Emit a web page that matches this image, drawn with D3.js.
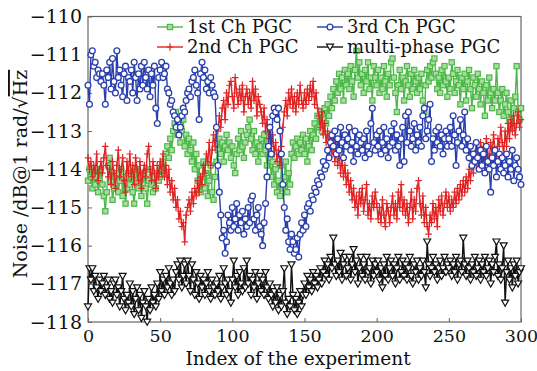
<!DOCTYPE html>
<html><head><meta charset="utf-8">
<script src="https://cdn.jsdelivr.net/npm/d3@7"></script>
<style>body{margin:0;background:#fff}svg{display:block}</style>
</head><body>
<svg id="c" width="537" height="371"></svg>
<script>
const xTicks = [0,50,100,150,200,250,300];
const yTicks = [-118,-117,-116,-115,-114,-113,-112,-111,-110];
const seriesNames = ["1st Ch PGC","2nd Ch PGC","3rd Ch PGC","multi-phase PGC"];

const ch1 = [
-114.3,-114.0,-114.2,-114.5,-114.1,-114.4,-114.2,-114.6,-114.3,-114.0,
-114.4,-114.7,-115.1,-114.6,-113.9,-113.7,-114.3,-114.8,-114.5,-114.2,
-114.1,-114.6,-114.3,-114.0,-114.7,-114.2,-114.9,-114.5,-114.1,-114.4,
-114.2,-114.6,-114.9,-114.3,-114.0,-114.5,-114.2,-114.7,-114.4,-114.1,
-114.5,-114.9,-114.3,-114.0,-114.4,-114.6,-114.2,-114.5,-114.1,-114.3,
-114.2,-114.0,-113.8,-114.1,-113.6,-113.4,-113.7,-113.2,-113.5,-113.0,
-112.8,-112.5,-113.1,-112.9,-113.3,-113.0,-112.7,-113.4,-113.1,-113.6,
-113.2,-113.5,-113.8,-113.3,-114.0,-113.6,-114.3,-113.9,-114.6,-114.2,
-113.8,-114.5,-114.1,-114.7,-114.3,-113.9,-114.6,-114.8,-114.2,-113.8,
-113.5,-113.2,-113.6,-113.3,-113.8,-113.4,-113.1,-113.5,-113.3,-113.7,
-113.4,-113.9,-114.1,-113.6,-113.2,-113.5,-113.0,-113.4,-113.7,-113.3,
-113.1,-112.9,-112.7,-113.2,-113.5,-113.0,-113.6,-113.3,-113.8,-113.4,
-113.2,-113.6,-113.1,-113.5,-113.9,-113.3,-113.7,-114.2,-113.8,-114.4,
-114.0,-114.6,-114.3,-114.7,-113.9,-114.5,-114.2,-113.8,-114.6,-114.1,
-114.4,-113.6,-113.3,-113.7,-113.4,-113.2,-113.6,-113.3,-113.5,-113.1,
-113.6,-113.2,-113.8,-113.4,-113.0,-113.5,-113.1,-112.8,-113.2,-112.6,
-112.9,-112.5,-113.0,-112.7,-112.4,-112.8,-112.3,-112.6,-112.1,-112.4,
-111.9,-112.2,-111.7,-112.0,-111.5,-111.9,-111.6,-112.2,-111.4,-111.8,
-111.5,-111.9,-111.3,-111.7,-112.1,-111.4,-110.9,-111.6,-111.2,-111.8,
-111.5,-112.0,-111.4,-111.7,-111.2,-111.9,-111.6,-112.2,-111.3,-111.6,
-111.8,-111.4,-112.0,-111.6,-111.9,-111.3,-111.7,-112.1,-111.5,-111.8,
-111.2,-111.1,-111.6,-112.0,-112.5,-111.8,-111.4,-111.9,-111.6,-112.2,
-111.7,-111.3,-111.8,-112.1,-111.5,-111.9,-111.4,-111.7,-112.0,-111.6,
-111.9,-111.5,-112.2,-112.5,-111.8,-111.4,-111.7,-111.3,-111.6,-111.2,
-111.1,-111.5,-111.9,-111.6,-112.0,-111.4,-111.8,-111.3,-111.7,-112.1,
-111.6,-111.9,-111.2,-111.5,-112.0,-111.7,-111.4,-111.8,-112.3,-111.6,
-111.9,-111.5,-112.2,-111.7,-111.4,-111.9,-112.4,-111.6,-111.8,-112.1,
-111.5,-111.9,-112.3,-111.7,-112.0,-112.6,-111.8,-112.2,-111.6,-112.0,
-112.4,-111.9,-112.2,-111.3,-112.0,-112.5,-112.2,-111.9,-112.6,-112.3,
-112.0,-112.5,-112.7,-112.2,-112.9,-112.4,-112.1,-111.3,-112.5,-112.7,
-112.4];

const ch2 = [
-113.7,-114.0,-113.8,-114.2,-113.9,-114.1,-113.6,-114.3,-114.0,-113.8,
-114.1,-113.7,-113.4,-113.9,-114.2,-114.0,-114.4,-113.8,-114.1,-114.5,
-113.9,-113.5,-114.2,-114.0,-113.7,-114.3,-114.6,-113.8,-114.1,-113.6,
-114.2,-113.9,-114.4,-113.7,-114.0,-114.3,-113.8,-114.5,-114.1,-113.9,
-114.2,-113.6,-113.4,-114.0,-114.3,-113.8,-114.1,-114.5,-113.9,-114.2,
-113.8,-114.1,-113.6,-114.2,-113.9,-114.4,-114.0,-114.6,-114.3,-114.8,
-114.5,-115.0,-114.8,-115.3,-115.1,-115.5,-115.4,-115.9,-115.2,-115.0,
-114.8,-115.1,-114.6,-114.9,-114.5,-114.7,-114.3,-114.6,-114.2,-114.4,
-113.9,-114.1,-113.6,-113.8,-113.3,-113.9,-113.5,-113.1,-113.4,-112.9,
-113.0,-112.6,-112.9,-112.4,-112.2,-112.7,-112.0,-112.3,-111.8,-111.7,
-112.1,-112.4,-111.6,-112.0,-112.3,-111.9,-112.2,-111.8,-112.5,-112.1,
-111.9,-112.3,-112.0,-112.4,-111.7,-112.2,-111.9,-112.6,-112.1,-112.3,
-112.5,-112.8,-112.4,-113.0,-112.7,-113.2,-112.9,-113.4,-113.1,-113.6,
-113.3,-113.8,-113.5,-113.9,-113.4,-112.9,-112.5,-112.2,-112.6,-112.0,
-112.3,-111.9,-112.4,-112.1,-112.5,-112.0,-112.3,-111.8,-112.2,-112.4,
-112.0,-112.3,-111.9,-112.2,-111.8,-112.1,-111.7,-112.3,-112.0,-112.4,
-112.6,-112.9,-112.5,-113.1,-112.8,-113.3,-113.0,-113.5,-113.2,-113.6,
-113.3,-113.8,-113.5,-113.9,-113.6,-114.1,-113.7,-114.2,-113.9,-114.4,
-114.1,-114.6,-114.3,-114.8,-114.5,-115.0,-114.7,-115.2,-114.6,-114.9,
-114.5,-115.1,-114.8,-114.4,-115.2,-114.9,-115.3,-114.7,-115.0,-114.6,
-114.9,-115.3,-115.0,-115.4,-114.8,-115.2,-115.5,-114.9,-115.1,-115.4,
-115.0,-114.7,-115.2,-114.9,-115.3,-114.6,-115.0,-114.4,-115.1,-114.8,
-115.2,-114.9,-115.4,-115.0,-114.6,-115.3,-114.8,-115.1,-114.5,-114.3,
-114.9,-115.2,-114.7,-115.4,-115.0,-115.5,-115.7,-115.2,-115.4,-114.9,
-115.3,-115.0,-115.5,-114.8,-115.1,-114.7,-115.2,-114.9,-114.6,-115.0,
-114.7,-115.1,-114.8,-115.0,-114.6,-114.9,-114.5,-114.8,-114.4,-114.7,
-114.3,-114.6,-114.2,-114.5,-114.0,-114.3,-113.8,-114.1,-113.6,-113.9,
-113.5,-113.8,-113.3,-113.7,-113.4,-113.9,-113.2,-113.6,-113.8,-113.3,
-113.6,-113.1,-113.5,-113.8,-113.2,-113.4,-112.9,-113.3,-113.6,-113.0,
-113.4,-112.8,-113.2,-112.7,-113.0,-112.6,-113.1,-112.8,-112.5,-112.9,
-112.7];

const ch3 = [
-111.8,-112.3,-111.0,-110.9,-111.3,-111.2,-111.6,-111.4,-111.5,-111.7,
-111.5,-111.8,-112.3,-111.4,-111.6,-111.2,-111.9,-111.1,-111.7,-112.0,
-110.9,-111.6,-111.4,-111.8,-112.1,-111.5,-111.3,-112.2,-111.6,-111.7,
-111.4,-112.0,-111.2,-111.6,-112.2,-111.5,-111.9,-111.3,-111.8,-111.2,
-111.6,-111.9,-111.4,-112.1,-111.5,-111.8,-111.3,-112.4,-112.8,-111.6,
-111.4,-111.2,-111.6,-111.5,-111.3,-111.9,-112.0,-112.3,-112.2,-112.5,
-112.6,-112.9,-112.7,-113.1,-112.9,-112.6,-112.4,-112.5,-112.2,-112.0,
-111.9,-112.1,-111.7,-111.6,-111.4,-111.8,-112.0,-112.7,-111.5,-111.2,
-111.6,-111.4,-111.9,-111.7,-112.0,-111.6,-111.8,-112.0,-112.1,-112.9,
-113.9,-114.6,-115.2,-115.8,-115.6,-116.2,-115.9,-115.2,-115.4,-115.6,
-115.0,-115.5,-115.3,-114.9,-115.6,-115.2,-115.4,-115.1,-115.7,-115.3,
-115.5,-115.0,-115.4,-114.8,-114.7,-115.3,-115.6,-115.2,-115.0,-115.5,
-115.7,-116.0,-115.4,-114.9,-114.2,-113.4,-112.9,-113.6,-112.6,-112.4,
-112.5,-112.7,-112.4,-113.0,-113.6,-114.4,-115.0,-115.6,-115.3,-115.9,
-116.1,-115.7,-115.9,-116.2,-116.1,-115.8,-116.3,-115.7,-115.4,-115.6,
-115.2,-115.5,-115.0,-114.9,-115.1,-114.7,-114.8,-114.5,-114.6,-114.3,
-114.4,-114.1,-114.2,-113.8,-114.0,-113.9,-113.5,-113.7,-113.3,-113.1,
-113.4,-113.0,-113.6,-113.2,-113.5,-112.9,-113.3,-113.7,-113.1,-113.4,
-113.2,-112.9,-113.5,-113.3,-113.8,-113.0,-113.4,-113.6,-113.1,-113.3,
-113.5,-113.2,-113.7,-113.0,-113.4,-113.6,-112.8,-112.4,-113.3,-113.5,
-113.1,-113.4,-113.0,-113.6,-113.3,-112.9,-113.5,-113.2,-113.7,-113.4,
-113.0,-113.3,-112.8,-113.5,-113.1,-113.4,-113.9,-113.2,-112.9,-113.8,
-112.6,-113.3,-112.5,-113.0,-113.4,-113.2,-112.8,-113.5,-113.1,-113.3,
-112.9,-113.4,-112.6,-112.4,-113.2,-113.0,-112.7,-112.3,-113.8,-113.2,
-113.5,-113.0,-113.3,-112.9,-113.4,-113.1,-113.6,-113.2,-113.0,-113.4,
-113.2,-112.9,-113.4,-112.6,-113.1,-113.9,-113.3,-113.0,-112.7,-113.4,
-113.1,-112.5,-113.5,-113.2,-113.7,-113.4,-113.9,-113.6,-113.8,-113.3,
-113.7,-114.0,-113.5,-113.9,-113.6,-114.1,-113.4,-113.8,-114.0,-114.6,
-113.7,-113.9,-113.5,-114.2,-113.8,-113.6,-114.0,-113.7,-114.1,-113.9,
-113.6,-114.2,-113.8,-114.0,-113.5,-114.3,-113.9,-113.7,-114.0,-114.2,
-114.4];

const multi = [
-117.6,-116.6,-116.9,-116.6,-117.2,-116.8,-117.1,-117.4,-116.9,-117.2,
-117.0,-116.8,-117.3,-117.1,-116.9,-117.4,-117.2,-117.5,-117.0,-116.9,
-117.3,-117.1,-117.6,-117.2,-116.8,-117.4,-117.7,-117.3,-117.5,-117.0,
-117.6,-117.2,-117.8,-117.4,-117.1,-117.7,-117.3,-117.9,-117.5,-117.2,
-117.6,-118.0,-117.4,-117.7,-117.1,-117.5,-117.3,-117.6,-117.0,-117.4,
-116.7,-117.2,-116.9,-117.3,-116.8,-117.1,-116.6,-117.0,-117.3,-116.9,
-117.2,-116.7,-116.5,-116.9,-116.4,-117.1,-116.8,-116.5,-117.0,-116.4,
-116.8,-117.2,-116.5,-116.9,-117.3,-116.7,-117.0,-117.4,-116.8,-117.1,
-116.9,-117.3,-117.0,-116.7,-117.2,-117.4,-116.9,-117.1,-117.3,-117.0,
-117.2,-116.8,-117.4,-117.1,-116.6,-117.0,-117.3,-116.9,-117.2,-117.5,
-116.9,-116.4,-117.1,-116.8,-117.3,-116.7,-117.0,-117.2,-116.6,-117.1,
-116.4,-117.0,-116.8,-117.3,-116.9,-117.1,-116.7,-117.4,-117.0,-116.8,
-117.2,-116.9,-117.3,-116.7,-117.1,-117.4,-117.0,-117.3,-117.6,-117.2,
-117.5,-117.1,-117.7,-117.3,-117.6,-117.2,-116.6,-117.5,-117.8,-117.4,
-117.6,-116.5,-117.3,-117.7,-117.4,-117.8,-117.5,-117.2,-117.6,-117.3,
-117.0,-117.3,-116.8,-117.1,-116.9,-117.2,-116.7,-117.0,-116.8,-117.1,
-116.9,-116.6,-117.0,-116.7,-116.4,-116.8,-116.5,-116.9,-116.3,-116.6,
-115.8,-116.5,-116.8,-116.4,-116.7,-116.2,-116.9,-116.5,-116.3,-116.8,
-116.6,-116.3,-116.9,-116.5,-116.1,-116.7,-116.4,-117.0,-116.6,-116.3,
-116.8,-116.5,-116.9,-116.3,-116.7,-116.6,-117.0,-116.4,-116.8,-116.5,
-116.7,-116.4,-116.9,-116.6,-117.1,-116.5,-116.8,-116.3,-116.9,-116.6,
-116.4,-116.8,-116.5,-117.0,-116.6,-116.3,-116.9,-116.7,-116.4,-116.8,
-116.5,-116.9,-116.6,-116.3,-116.8,-117.0,-116.5,-116.7,-116.4,-116.9,
-116.6,-116.8,-116.4,-116.7,-117.1,-115.9,-116.5,-116.8,-116.6,-116.3,
-116.7,-116.5,-116.9,-116.6,-116.4,-116.8,-116.6,-116.3,-116.7,-116.5,
-116.6,-116.4,-116.8,-116.5,-116.7,-116.3,-116.9,-116.5,-116.4,-116.7,
-115.8,-116.5,-116.8,-116.4,-116.6,-116.9,-116.5,-116.7,-116.3,-116.8,
-116.6,-116.4,-116.9,-116.5,-116.7,-116.3,-116.8,-116.6,-116.4,-117.0,
-116.5,-116.7,-116.3,-115.9,-116.8,-116.5,-116.9,-116.6,-116.0,-117.5,
-116.7,-116.4,-116.9,-116.6,-117.1,-116.5,-116.8,-116.4,-117.0,-116.7,
-116.6];

const svg = d3.select("#c");
const FONT = "'DejaVu Serif', 'Liberation Serif', serif";
const x = d3.scaleLinear().domain([0,300]).range([88,521]);
const y = d3.scaleLinear().domain([-118,-110]).range([322,16.5]);

// frame
svg.append("rect").attr("x",88).attr("y",16.5).attr("width",433).attr("height",305.5)
  .attr("fill","none").attr("stroke","#666").attr("stroke-width",1.2);

// axes with inward ticks
const gx = svg.append("g").attr("transform","translate(0,322)")
  .call(d3.axisBottom(x).tickValues(xTicks).tickSizeInner(-4).tickSizeOuter(0).tickPadding(8));
const gy = svg.append("g").attr("transform","translate(88,0)")
  .call(d3.axisLeft(y).tickValues(yTicks).tickSizeInner(-4).tickSizeOuter(0).tickPadding(6)
    .tickFormat(d=>"\u2212"+Math.abs(d)));
[gx,gy].forEach(g=>{
  g.select(".domain").remove();
  g.selectAll(".tick line").attr("stroke","#666");
  g.selectAll("text").attr("font-family",FONT).attr("fill","#111");
});
gy.selectAll("text").attr("font-size",19);
gx.selectAll("text").attr("font-size",17.5).attr("dy","0.66em");

const colors = ["#4cb848","#e02424","#2a3fae","#111111"];
const fills  = ["#a8dca0","#e02424","#ffffff","#ffffff"];
const data = [ch1,ch2,ch3,multi];
const line = d3.line().x((d,i)=>x(i)).y(d=>y(d));

function marker(g, k, cx, cy){
  const c = colors[k];
  if(k===0){
    g.append("rect").attr("x",cx-2.6).attr("y",cy-2.6).attr("width",5.2).attr("height",5.2)
      .attr("fill",fills[0]).attr("stroke",c).attr("stroke-width",1.2);
  } else if(k===1){
    g.append("path").attr("d",`M${cx-3.2},${cy}H${cx+3.2}M${cx},${cy-3.8}V${cy+3.8}`)
      .attr("stroke",c).attr("stroke-width",1.2).attr("fill","none");
  } else if(k===2){
    g.append("circle").attr("cx",cx).attr("cy",cy).attr("r",2.9)
      .attr("fill",fills[2]).attr("stroke",c).attr("stroke-width",1.3);
  } else {
    g.append("path").attr("d",`M${cx-3.5},${cy-2.8}L${cx+3.5},${cy-2.8}L${cx},${cy+3.3}Z`)
      .attr("fill",fills[3]).attr("stroke",c).attr("stroke-width",1.2);
  }
}

const order = [3,0,1,2];
order.forEach(k=>{
  const g = svg.append("g");
  g.append("path").datum(data[k]).attr("d",line).attr("fill","none")
    .attr("stroke",colors[k]).attr("stroke-width",1.4);
  data[k].forEach((v,i)=>marker(g,k,x(i),y(v)));
});

// legend (stretched to the reference's wide serif via letter-spacing)
const legWidths = [101,111,108,146];
const leg = [
  {k:0, lx:157, ty:27},
  {k:1, lx:157, ty:47},
  {k:2, lx:317, ty:27},
  {k:3, lx:317, ty:47}
];
const lg = svg.append("g");
leg.forEach(o=>{
  lg.append("line").attr("x1",o.lx).attr("x2",o.lx+26).attr("y1",o.ty).attr("y2",o.ty)
    .attr("stroke",colors[o.k]).attr("stroke-width",1.4);
  marker(lg,o.k,o.lx+13,o.ty);
  const t = lg.append("text").attr("x",o.lx+30).attr("y",o.ty+6)
    .attr("font-family",FONT).attr("font-size",18).attr("fill","#111")
    .text(seriesNames[o.k]);
  const nat = t.node().getComputedTextLength();
  const n = seriesNames[o.k].length;
  const ls = Math.max(0, (legWidths[o.k]-nat)/(n-1));
  t.attr("letter-spacing", ls.toFixed(2));
});

// axis titles
svg.append("text").attr("x",298).attr("y",365).attr("text-anchor","middle")
  .attr("font-family",FONT).attr("font-size",18.5).attr("fill","#111")
  .text("Index of the experiment");
const yt = svg.append("text").attr("transform","translate(27,174) rotate(-90)")
  .attr("text-anchor","middle").attr("font-family",FONT).attr("font-size",19).attr("fill","#111");
yt.append("tspan").text("Noise /dB@1 rad/\u221A");
yt.append("tspan").style("text-decoration","overline").text("Hz");
</script>
</body></html>
